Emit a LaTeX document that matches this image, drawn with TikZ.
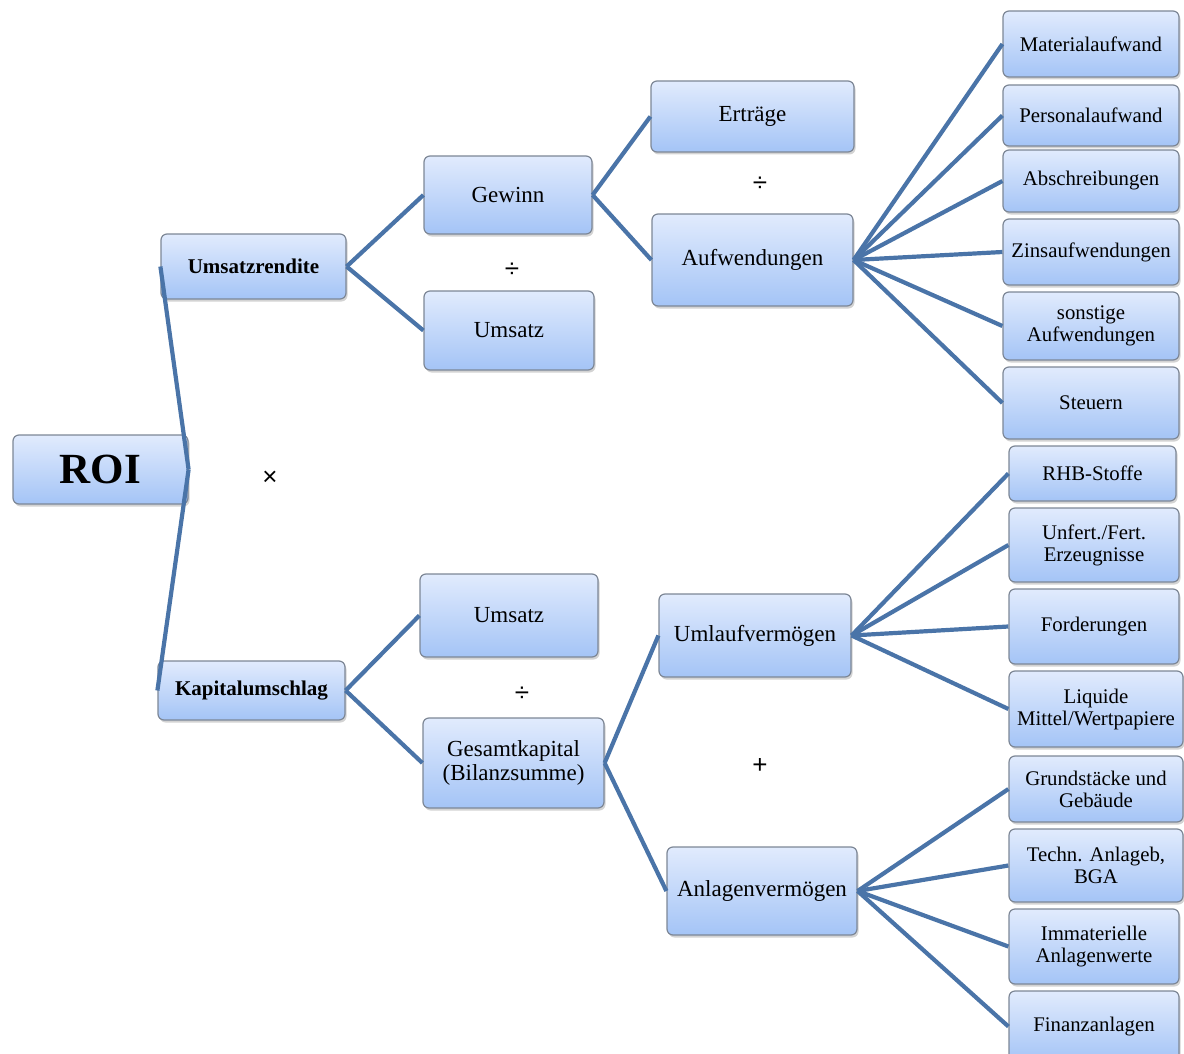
\documentclass[tikz,border=0pt]{standalone}
\usepackage{fontspec}
\setmainfont{Liberation Serif}
\newfontfamily\opfont{Liberation Sans}
\usepackage{tikz}
\usetikzlibrary{shadows}

\definecolor{linkblue}{HTML}{4A74A8}
\definecolor{boxtop}{HTML}{E1EBFD}
\definecolor{boxbottom}{HTML}{A4C4F6}
\definecolor{boxrim}{HTML}{7D8796}

\begin{document}
\begin{tikzpicture}[
    x=1pt, y=-1pt,
    box/.style={draw=boxrim, line width=1.2pt, rounded corners=6pt, top color=boxtop, bottom color=boxbottom,
      align=center, inner sep=1pt, drop shadow={shadow xshift=1.5pt, shadow yshift=-2.5pt, opacity=0.35},
      font=\fontsize{23}{24}\selectfont},
    leaf/.style={box, font=\fontsize{20.8}{22}\selectfont},
    ratio/.style={box, font=\bfseries\fontsize{21}{23}\selectfont},
    op/.style={font=\opfont\fontsize{26}{28}\selectfont},
    link/.style={draw=linkblue, line width=4.2pt}
]
\useasboundingbox (0,0) rectangle (1184,1054);

% left part
\node[box, minimum width=175pt, minimum height=69pt, font=\bfseries\fontsize{43}{45}\selectfont] (roi) at (100.5,469.5) {ROI};
\node[ratio, minimum width=185pt, minimum height=65pt] (ur) at (253.5,266.5) {Umsatzrendite};
\node[ratio, minimum width=187pt, minimum height=59pt] (ku) at (251.5,690.5) {Kapitalumschlag};

% Umsatzrendite branch
\node[box, minimum width=168pt, minimum height=78pt] (gewinn) at (508,195) {Gewinn};
\node[box, minimum width=170pt, minimum height=79pt] (umsatzA) at (509,330.5) {Umsatz};
\node[box, minimum width=203pt, minimum height=71pt] (ertraege) at (752.5,116.5) {Erträge};
\node[box, minimum width=201pt, minimum height=92pt] (aufw) at (752.5,260) {Aufwendungen};

\node[leaf, minimum width=176pt, minimum height=66pt] (mat) at (1091,44) {Materialaufwand};
\node[leaf, minimum width=176pt, minimum height=61pt] (pers) at (1091,115.5) {Personalaufwand};
\node[leaf, minimum width=176pt, minimum height=62pt] (abschr) at (1091,181) {Abschreibungen};
\node[leaf, minimum width=176pt, minimum height=66pt] (zins) at (1091,252) {Zinsaufwendungen};
\node[leaf, minimum width=176pt, minimum height=68pt] (sonst) at (1091,326) {sonstige\\Aufwendungen};
\node[leaf, minimum width=176pt, minimum height=72pt] (steuern) at (1091,403) {Steuern};

% Kapitalumschlag branch
\node[box, minimum width=178pt, minimum height=83pt] (umsatzB) at (509,615.5) {Umsatz};
\node[box, minimum width=181pt, minimum height=90pt] (gesamt) at (513.5,763) {Gesamtkapital\\(Bilanzsumme)};
\node[box, minimum width=192pt, minimum height=83pt] (umlauf) at (755,635.5) {Umlaufvermögen};
\node[box, minimum width=190pt, minimum height=88pt] (anlage) at (762,891) {Anlagenvermögen};

\node[leaf, minimum width=167pt, minimum height=55pt] (rhb) at (1092.5,473.5) {RHB-Stoffe};
\node[leaf, minimum width=170pt, minimum height=74pt] (unfert) at (1094,545) {Unfert./Fert.\\Erzeugnisse};
\node[leaf, minimum width=170pt, minimum height=75pt] (ford) at (1094,626.5) {Forderungen};
\node[leaf, minimum width=174pt, minimum height=76pt] (liquide) at (1096,709) {Liquide\\Mittel/Wertpapiere};
\node[leaf, minimum width=174pt, minimum height=66pt] (grund) at (1096,789) {Grundstäcke und\\Gebäude};
\node[leaf, minimum width=174pt, minimum height=73pt] (techn) at (1096,865.5) {Techn. Anlageb,\\BGA};
\node[leaf, minimum width=170pt, minimum height=75pt] (immat) at (1094,946.5) {Immaterielle\\Anlagenwerte};
\node[leaf, minimum width=170pt, minimum height=71pt] (finanz) at (1094,1026.5) {Finanzanlagen};

% operators
\node[op] (mal) at (270,478) {×};
\node[op] (durchA) at (512,270) {÷};
\node[op] (durchB) at (760,184) {÷};
\node[op] (durchC) at (522,694) {÷};
\node[op] (plus) at (760,766) {+};

% connectors
\draw[link] (roi.east) -- (ur.west);
\draw[link] (roi.east) -- (ku.west);
\foreach \t in {gewinn, umsatzA} \draw[link] (ur.east) -- (\t.west);
\foreach \t in {ertraege, aufw} \draw[link] (gewinn.east) -- (\t.west);
\foreach \t in {mat, pers, abschr, zins, sonst, steuern} \draw[link] (aufw.east) -- (\t.west);
\foreach \t in {umsatzB, gesamt} \draw[link] (ku.east) -- (\t.west);
\foreach \t in {umlauf, anlage} \draw[link] (gesamt.east) -- (\t.west);
\foreach \t in {rhb, unfert, ford, liquide} \draw[link] (umlauf.east) -- (\t.west);
\foreach \t in {grund, techn, immat, finanz} \draw[link] (anlage.east) -- (\t.west);
\end{tikzpicture}
\end{document}
